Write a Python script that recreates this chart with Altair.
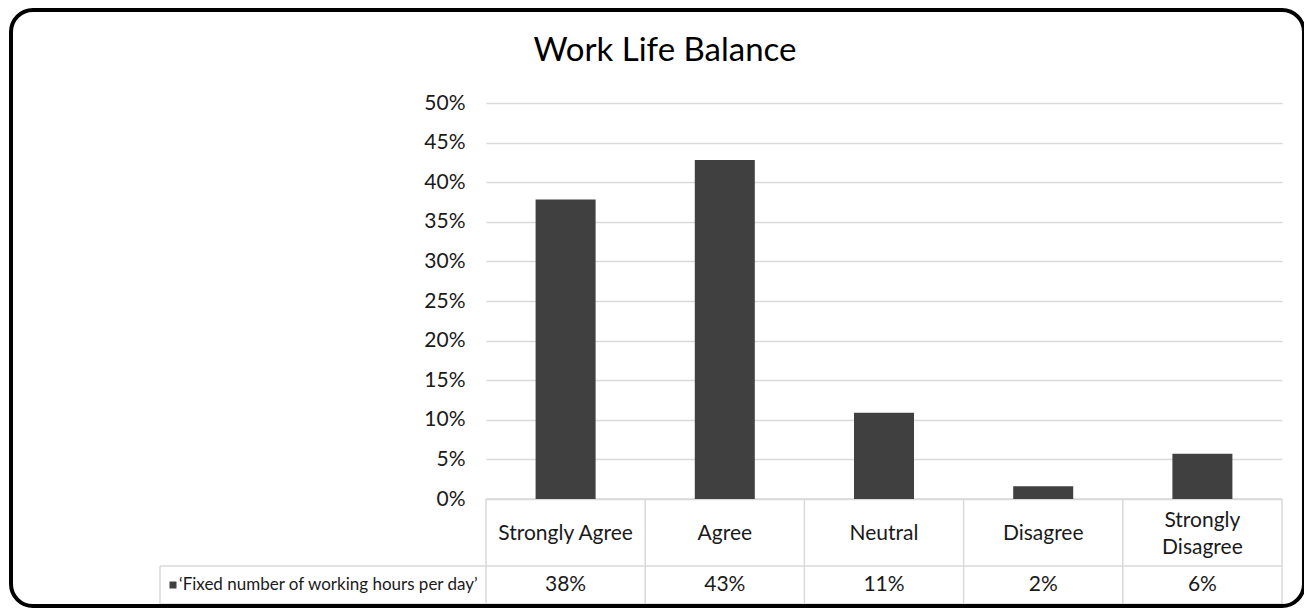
import altair as alt
import pandas as pd

categories = ["Strongly Agree", "Agree", "Neutral", "Disagree", "Strongly Disagree"]
labels = ["Strongly Agree", "Agree", "Neutral", "Disagree", "Strongly\nDisagree"]
values = [0.378, 0.428, 0.109, 0.016, 0.057]
series_name = "\u2018Fixed number of working hours per day\u2019"
title_text = "Work Life Balance"
y_ticks = [0, 0.05, 0.10, 0.15, 0.20, 0.25, 0.30, 0.35, 0.40, 0.45, 0.50]

df = pd.DataFrame({"category": categories, "label": labels, "value": values})
df["lines"] = df["label"].str.count("\n") + 1
one = pd.DataFrame({"k": [0]})

W, H = 796, 396
FONT = "Lato"
FS = 21
TXT = "#1a1a1a"
GRID = "#d9d9d9"
BAR = "#404040"

xscale = alt.Scale(paddingInner=0, paddingOuter=0)


def xenc(bp=None):
    if bp is None:
        return alt.X("category:N", sort=categories, scale=xscale, axis=None)
    return alt.X("category:N", sort=categories, scale=xscale, axis=None, bandPosition=bp)


bars = alt.Chart(df).mark_bar(color=BAR, width={"band": 0.377}).encode(
    x=xenc(),
    y=alt.Y(
        "value:Q",
        scale=alt.Scale(domain=[0, 0.5], nice=False),
        axis=alt.Axis(
            values=y_ticks, format=".0%", title=None, ticks=False, domain=False,
            labelPadding=21, labelFontSize=FS, labelFont=FONT, labelColor=TXT,
            gridColor=GRID, gridWidth=1.5,
        ),
    ),
)

cat_text1 = alt.Chart(df).transform_filter(alt.datum.lines == 1).mark_text(
    font=FONT, fontSize=FS, baseline="middle", color=TXT
).encode(x=xenc(), y=alt.value(431), text="label:N")

cat_text2 = alt.Chart(df).transform_filter(alt.datum.lines == 2).mark_text(
    font=FONT, fontSize=FS, lineBreak="\n", lineHeight=27, baseline="middle", color=TXT
).encode(x=xenc(), y=alt.value(418), text="label:N")

val_text = alt.Chart(df).mark_text(
    font=FONT, fontSize=FS, baseline="middle", color=TXT
).encode(x=xenc(), y=alt.value(482), text=alt.Text("value:Q", format=".0%"))

vlines = alt.Chart(df).mark_rule(color=GRID, strokeWidth=1.5).encode(
    x=xenc(0), y=alt.value(396), y2=alt.value(501)
)
vlast = alt.Chart(df).transform_filter(
    alt.datum.category == categories[-1]
).mark_rule(color=GRID, strokeWidth=1.5).encode(
    x=xenc(1), y=alt.value(396), y2=alt.value(501)
)
vleft = alt.Chart(one).mark_rule(color=GRID, strokeWidth=1.5).encode(
    x=alt.value(-326), y=alt.value(463), y2=alt.value(501)
)
h0 = alt.Chart(one).mark_rule(color=GRID, strokeWidth=1.5).encode(
    x=alt.value(0), x2=alt.value(W), y=alt.value(396)
)
h1 = alt.Chart(one).mark_rule(color=GRID, strokeWidth=1.5).encode(
    x=alt.value(-326), x2=alt.value(W), y=alt.value(463)
)
h2 = alt.Chart(one).mark_rule(color=GRID, strokeWidth=1.5).encode(
    x=alt.value(-326), x2=alt.value(W), y=alt.value(501)
)

legend_sq = alt.Chart(one).mark_square(size=49, color=BAR, opacity=1).encode(
    x=alt.value(-313), y=alt.value(482)
)
legend_txt = alt.Chart(one).mark_text(
    text=series_name, font=FONT, fontSize=17, align="left", baseline="middle", color=TXT
).encode(x=alt.value(-307), y=alt.value(482))

title = alt.Chart(one).mark_text(
    text=title_text, font=FONT, fontSize=33, align="center", baseline="middle", color="#000000"
).encode(x=alt.value(179), y=alt.value(-52))

border = alt.Chart(one).mark_rect(
    fillOpacity=0, stroke="#000000", strokeWidth=4, cornerRadius=22
).encode(x=alt.value(-475), x2=alt.value(818), y=alt.value(-93), y2=alt.value(503))

chart = alt.layer(
    vlines, vlast, vleft, h0, h1, h2, bars, cat_text1, cat_text2, val_text,
    legend_sq, legend_txt, title, border
).properties(
    width=W, height=H,
    autosize=alt.AutoSizeParams(type="none"),
    padding={"left": 478, "top": 95, "right": 22, "bottom": 109},
    background="white",
).configure_view(stroke=None)

chart.save("out.html", embed_options={"renderer": "svg", "actions": False})
